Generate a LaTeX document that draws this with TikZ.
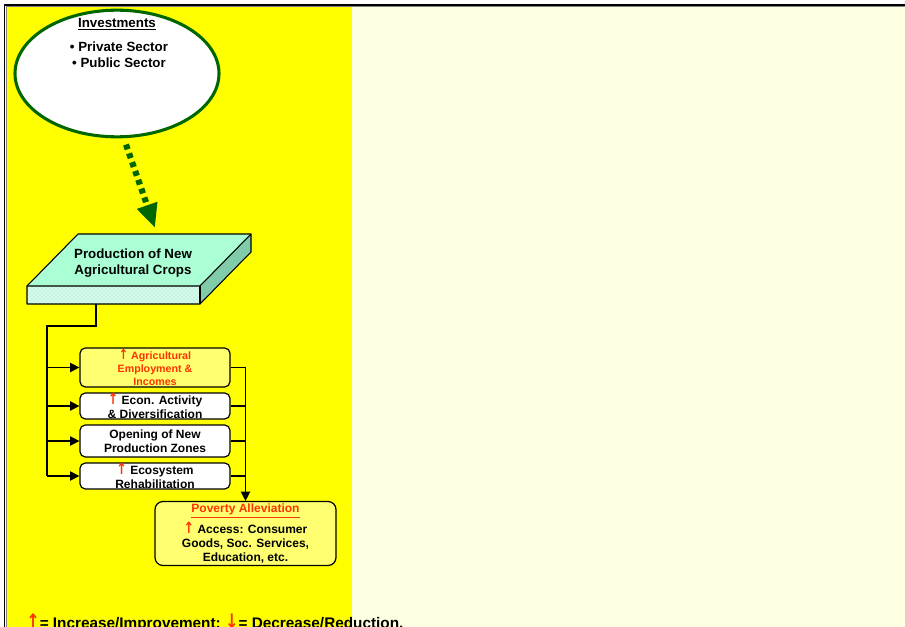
\documentclass[tikz,border=0pt]{standalone}
\usepackage{fontspec}
\setmainfont{Liberation Sans}
\newfontfamily\arrowfont{DejaVu Sans}
\usetikzlibrary{shapes.geometric,arrows.meta,patterns}

\definecolor{cream}{RGB}{255,255,227}
\definecolor{hiyellow}{RGB}{255,255,0}
\definecolor{paleyellow}{RGB}{255,255,112}
\definecolor{leafgreen}{RGB}{0,102,0}
\definecolor{minttop}{RGB}{170,255,212}
\definecolor{mintside}{RGB}{128,204,170}
\definecolor{mintface}{RGB}{215,250,235}
\definecolor{mintdot}{RGB}{140,230,195}
\definecolor{alert}{RGB}{255,51,0}

% red increase / decrease markers
\newcommand{\risemark}{{\arrowfont\color{alert}\scalebox{1.05}[1.3]{↑}}}
\newcommand{\dropmark}{{\arrowfont\color{alert}\scalebox{1.05}[1.3]{↓}}}

\tikzset{
  effect/.style={draw=black, line width=0.9pt, rounded corners=4pt, fill=white,
    minimum width=112.5pt, inner sep=0pt, align=center,
    font=\bfseries\fontsize{9}{10.5}\selectfont},
  link/.style={line width=1pt, black},
  tipped/.style={link, -{Triangle[length=7pt,width=7pt]}},
  slabedge/.style={draw=black, line width=0.8pt, line join=round},
  heading/.style={font=\bfseries\fontsize{10}{12}\selectfont, align=center},
}

\begin{document}
\begin{tikzpicture}[x=0.75pt, y=-0.75pt]
\useasboundingbox (0,0) rectangle (905,627);
\clip (0,0) rectangle (905,627);

% backgrounds
\fill[white] (0,0) rectangle (905,627);
\fill[cream] (7,7) rectangle (905,627);
\fill[hiyellow] (7,7) rectangle (352,627);

% frame
\draw[black, line width=0.8pt] (4.8,627) -- (4.8,5) -- (905,5);
\draw[gray, line width=0.6pt] (6.3,627) -- (6.3,6.5) -- (905,6.5);

% investments
\node[ellipse, draw=leafgreen, line width=2.3pt, fill=white, minimum width=153pt,
      minimum height=95pt, inner sep=0pt] (inv) at (117,73.5) {};
\node[heading] (invtitle) at (117,24) {\underline{Investments}};
\node[heading] (invlist) at (119,55) {• Private Sector\\• Public Sector};

% dotted green arrow down to the crops slab
\coordinate (arrtip) at (155,228);
\draw[leafgreen, line width=4.6pt, line cap=butt, dash pattern=on 3.8pt off 3.2pt,
      shorten <=5pt, -{Triangle[length=18pt,width=15pt]}] (inv.-84) -- (arrtip);

% crops slab (3D)
\fill[minttop] (27,286) -- (78,234) -- (251,234) -- (200,286) -- cycle;
\fill[mintside] (200,286) -- (251,234) -- (251,252) -- (200,304) -- cycle;
\fill[mintface] (27,286) rectangle (200,304);
\fill[pattern=crosshatch dots, pattern color=mintdot] (27,286) rectangle (200,304);
\draw[slabedge] (27,286) -- (78,234) -- (251,234) -- (251,252) -- (200,304)
  -- (27,304) -- cycle;
\draw[slabedge] (27,286) -- (200,286) -- (251,234);
\draw[slabedge] (200,286) -- (200,304);
\node[heading] (crops) at (133,263) {Production of New\\Agricultural Crops};
\coordinate (slabbot) at (96,304);
\coordinate (bend) at (96,326);
\coordinate (trunk) at (47,326);

% effects
\node[effect, fill=paleyellow, minimum height=29.25pt, text=alert,
      font=\bfseries\fontsize{8}{9.75}\selectfont] (b1) at (155,367.5)
  {\risemark\ Agricultural\\Employment \&\\Incomes};
\node[effect, minimum height=19.5pt] (b2) at (155,406)
  {\risemark\ Econ. Activity\\\& Diversification};
\node[effect, minimum height=24pt] (b3) at (155,441)
  {Opening of New\\Production Zones};
\node[effect, minimum height=19.5pt] (b4) at (155,476)
  {\risemark\ Ecosystem\\Rehabilitation};

% poverty alleviation
\node[effect, fill=paleyellow, rounded corners=6pt, minimum width=135.75pt,
      minimum height=48pt] (pov) at (245.5,533.5)
  {{\color{alert}\underline{Poverty Alleviation}}\\[2pt]
   \risemark\ Access: Consumer\\Goods, Soc. Services,\\Education, etc.};

% connectors from the slab to the effects
\draw[link] (slabbot) -- (bend) -- (trunk) -- (trunk |- b4.west);
\draw[tipped] (trunk |- b1.west) -- (b1.west);
\draw[tipped] (trunk |- b2.west) -- (b2.west);
\draw[tipped] (trunk |- b3.west) -- (b3.west);
\draw[tipped] (trunk |- b4.west) -- (b4.west);

% connectors from the effects to poverty alleviation
\draw[tipped] (b1.east) -| (pov.north);
\draw[link] (b2.east) -- (b2.east -| pov.north);
\draw[link] (b3.east) -- (b3.east -| pov.north);
\draw[link] (b4.east) -- (b4.east -| pov.north);

% legend
\node[anchor=base west, inner sep=0pt, font=\bfseries\fontsize{11.5}{13}\selectfont] (legend)
  at (26,628) {\risemark= Increase/Improvement; \dropmark= Decrease/Reduction.};
\end{tikzpicture}
\end{document}
